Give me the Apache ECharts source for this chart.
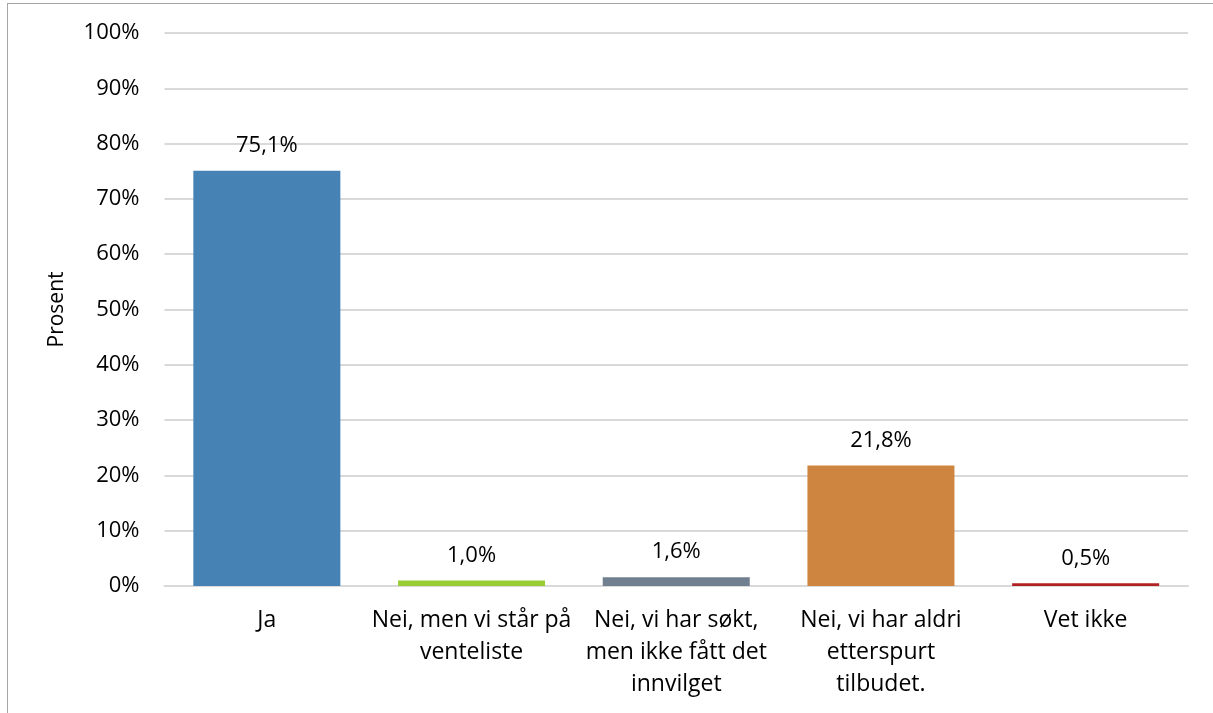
<!DOCTYPE html>
<html>
<head>
<meta charset="utf-8">
<script src="https://cdn.jsdelivr.net/npm/echarts@6/dist/echarts.min.js"></script>
<style>
html,body{margin:0;padding:0;background:#fff;}
#frame{position:absolute;left:7px;top:3px;width:1220px;height:720px;border-left:1.5px solid #a6a6a6;border-top:1.5px solid #a6a6a6;box-sizing:border-box;}
#chart{position:absolute;left:0;top:0;width:1213px;height:713px;}
</style>
</head>
<body>
<div id="frame"></div>
<div id="chart"></div>
<script>
var categories = ["Ja", "Nei, men vi står på\nventeliste", "Nei, vi har søkt,\nmen ikke fått det\ninnvilget", "Nei, vi har aldri\netterspurt\ntilbudet.", "Vet ikke"];
var values = [75.1, 1.0, 1.6, 21.8, 0.5];
var colors = ["#4682B4", "#9ACD32", "#708090", "#CD853F", "#B22222"];
var yTicks = [0, 10, 20, 30, 40, 50, 60, 70, 80, 90, 100];

var font = "'Open Sans', 'Noto Sans', sans-serif";
var chart = echarts.init(document.getElementById('chart'));
chart.setOption({
  animation: false,
  grid: {left: 164.5, right: 25, top: 33, bottom: 127, containLabel: false},
  xAxis: {
    type: 'category',
    data: categories,
    axisLine: {show: true, lineStyle: {color: '#d9d9d9', width: 2}},
    axisTick: {show: false},
    axisLabel: {interval: 0, color: '#000', fontFamily: font, fontSize: 23, lineHeight: 32, margin: 18}
  },
  yAxis: {
    type: 'value',
    min: 0, max: 100, interval: 10,
    name: 'Prosent',
    nameLocation: 'middle',
    nameGap: 97,
    nameRotate: 90,
    nameTextStyle: {color: '#000', fontFamily: font, fontSize: 21},
    axisLine: {show: false},
    axisTick: {show: false},
    splitLine: {lineStyle: {color: '#d9d9d9', width: 2}},
    axisLabel: {color: '#000', fontFamily: font, fontSize: 22, margin: 25,
      formatter: function(v){ return yTicks.indexOf(v) >= 0 ? v + '%' : ''; }}
  },
  series: [{
    type: 'bar',
    barWidth: 147,
    data: values.map(function(v, i){ return {value: v, itemStyle: {color: colors[i]}}; }),
    label: {
      show: true, position: 'top', distance: 14,
      color: '#000', fontFamily: font, fontSize: 22,
      formatter: function(p){ return p.value.toFixed(1).replace('.', ',') + '%'; }
    }
  }]
});
</script>
</body>
</html>
